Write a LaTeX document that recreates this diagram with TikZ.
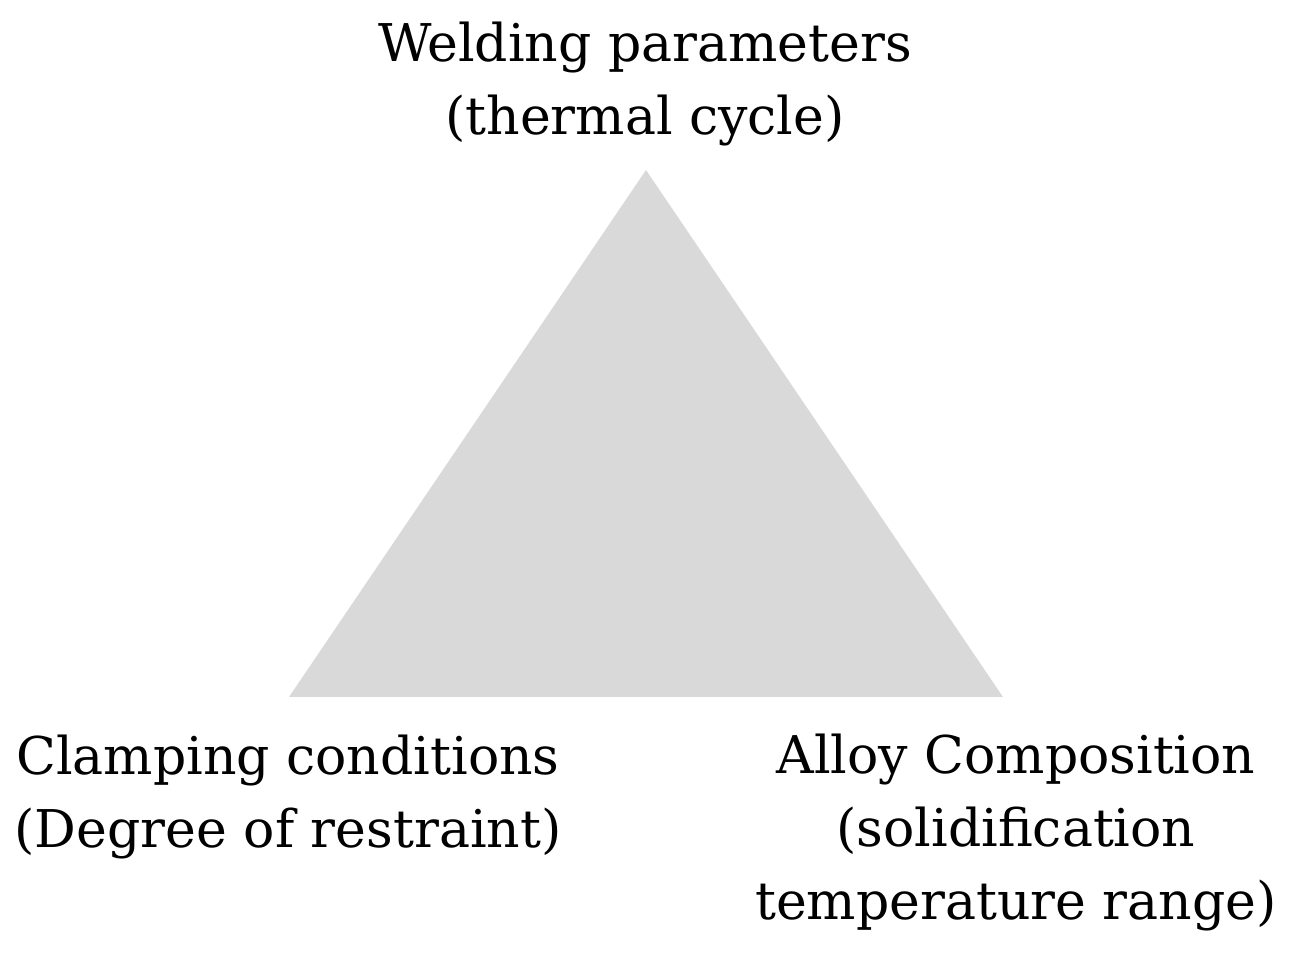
\documentclass[tikz,border=0pt]{standalone}
\usepackage{fontspec}
\setmainfont{DejaVu Serif}
\definecolor{trifill}{RGB}{217,217,217}
\begin{document}
\begin{tikzpicture}[x=0.01cm,y=-0.01cm,
  lbl/.style={font=\fontsize{14.8}{20.8}\selectfont, align=center, inner sep=0pt, anchor=base}]
\useasboundingbox (0,0) rectangle (1290,955);
\coordinate (apex) at (646,170);
\coordinate (bl) at (289,697);
\coordinate (br) at (1003,697);
\fill[trifill] (apex) -- (br) -- (bl) -- cycle;
\node[lbl] (wp) at (645,135) {Welding parameters\\(thermal cycle)};
\node[lbl] (cc) at (288,848) {Clamping conditions\\(Degree of restraint)};
\node[lbl] (ac) at (1016,920) {Alloy Composition\\(solidification\\temperature range)};
\end{tikzpicture}
\end{document}
